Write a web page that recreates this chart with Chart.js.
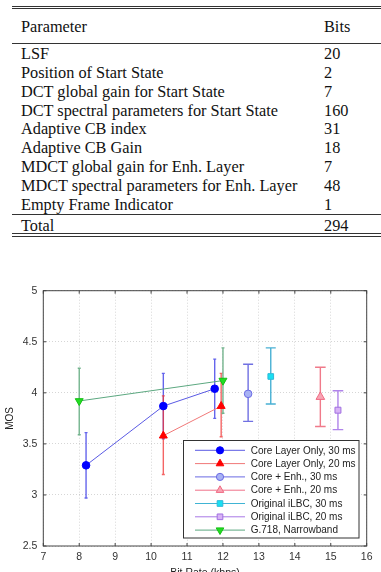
<!DOCTYPE html>
<html>
<head>
<meta charset="utf-8">
<script src="https://cdn.jsdelivr.net/npm/chart.js@4.4.0/dist/chart.umd.min.js"></script>
<style>
body { margin: 0; background: #fff; width: 381px; height: 572px; overflow: hidden; position: relative; font-family: "Liberation Serif", "Times New Roman", serif; }
#tbl { position: absolute; left: 12px; top: 0; width: 369px; height: 240px; }
.rule { position: absolute; left: 0; right: 0; border-top: 1px solid #333; }
.row { position: absolute; left: 9px; right: 0; height: 19px; line-height: 19px; font-size: 16.3px; color: #111; white-space: nowrap; }
.row .b { position: absolute; left: 303px; top: 0; }
#chartBox { position: absolute; left: 0; top: 270px; width: 381px; height: 302px; }
</style>
</head>
<body>
<div id="tbl"></div>
<div id="chartBox"><canvas id="mosChart"></canvas></div>
<script>
// Table data
const tableHeader = ['Parameter', 'Bits'];
const tableParams = ['LSF', 'Position of Start State', 'DCT global gain for Start State',
  'DCT spectral parameters for Start State', 'Adaptive CB index', 'Adaptive CB Gain',
  'MDCT global gain for Enh. Layer', 'MDCT spectral parameters for Enh. Layer', 'Empty Frame Indicator'];
const tableBits = [20, 2, 7, 160, 31, 18, 7, 48, 1];
const tableTotal = ['Total', 294];

// Chart data
const xTicks = [7, 8, 9, 10, 11, 12, 13, 14, 15, 16];
const yTicks = [2.5, 3, 3.5, 4, 4.5, 5];
const seriesLabels = ['Core Layer Only, 30 ms', 'Core Layer Only, 20 ms', 'Core + Enh., 30 ms',
  'Core + Enh., 20 ms', 'Original iLBC, 30 ms', 'Original iLBC, 20 ms', 'G.718, Narrowband'];

const core30X = [8.19, 10.34, 11.77];
const core30Y = [3.29, 3.87, 4.04];
const core30Lo = [2.97, 3.55, 3.75];
const core30Hi = [3.61, 4.19, 4.33];

const core20X = [10.34, 11.95];
const core20Y = [3.58, 3.87];
const core20Lo = [3.20, 3.57];
const core20Hi = [3.97, 4.19];

const enh30X = [12.70];
const enh30Y = [3.99];
const enh30Lo = [3.72];
const enh30Hi = [4.28];

const enh20X = [14.71];
const enh20Y = [3.96];
const enh20Lo = [3.67];
const enh20Hi = [4.25];

const ilbc30X = [13.33];
const ilbc30Y = [4.16];
const ilbc30Lo = [3.89];
const ilbc30Hi = [4.44];

const ilbc20X = [15.20];
const ilbc20Y = [3.83];
const ilbc20Lo = [3.64];
const ilbc20Hi = [4.02];

const g718X = [8.0, 12.0];
const g718Y = [3.92, 4.12];
const g718Lo = [3.59, 3.80];
const g718Hi = [4.24, 4.44];

// build the table
const tbl = document.getElementById('tbl');
function addRule(y) {
  const d = document.createElement('div');
  d.className = 'rule';
  d.style.top = y + 'px';
  tbl.appendChild(d);
}
function addRow(y, a, b) {
  const d = document.createElement('div');
  d.className = 'row';
  d.style.top = (y - 9.5) + 'px';
  d.textContent = a;
  const s = document.createElement('span');
  s.className = 'b';
  s.textContent = b;
  d.appendChild(s);
  tbl.appendChild(d);
}
addRule(5.5); addRule(8);
addRow(26, tableHeader[0], tableHeader[1]);
addRule(42.5);
tableParams.forEach((p, i) => addRow(53.3 + i * 18.9, p, tableBits[i]));
addRule(213.5);
addRow(225, tableTotal[0], tableTotal[1]);
addRule(232.5); addRule(235.5);

function pts(xs, ys) { return xs.map((x, i) => ({ x: x, y: ys[i] })); }

const datasets = [
  { label: seriesLabels[0], data: pts(core30X, core30Y), lo: core30Lo, hi: core30Hi, cap: 1.5,
    borderColor: '#5a5ae4', errColor: 'rgba(50,50,230,0.75)', pointBackgroundColor: '#0000ff', pointBorderColor: '#0000ff',
    pointStyle: 'circle', pointRadius: 3.8, showLine: true },
  { label: seriesLabels[1], data: pts(core20X, core20Y), lo: core20Lo, hi: core20Hi, cap: 1.5,
    borderColor: '#f07878', errColor: 'rgba(240,50,50,0.75)', pointBackgroundColor: '#ff0000', pointBorderColor: '#ff0000',
    pointStyle: 'triangle', pointRadius: 4.6, showLine: true },
  { label: seriesLabels[2], data: pts(enh30X, enh30Y), lo: enh30Lo, hi: enh30Hi, cap: 5,
    borderColor: '#6a6ae4', errColor: '#7070e2', pointBackgroundColor: '#a8b2f4', pointBorderColor: '#6a6ae4',
    pointStyle: 'circle', pointRadius: 3.8, showLine: false },
  { label: seriesLabels[3], data: pts(enh20X, enh20Y), lo: enh20Lo, hi: enh20Hi, cap: 5.3,
    borderColor: '#f07088', errColor: '#f07a8a', pointBackgroundColor: '#f8a4b4', pointBorderColor: '#f06a82',
    pointStyle: 'triangle', pointRadius: 5, showLine: false },
  { label: seriesLabels[4], data: pts(ilbc30X, ilbc30Y), lo: ilbc30Lo, hi: ilbc30Hi, cap: 5,
    borderColor: '#40b4d4', errColor: '#48b0d4', pointBackgroundColor: '#18e0f2', pointBorderColor: '#30b8d8',
    pointStyle: 'rect', pointRadius: 4, showLine: false },
  { label: seriesLabels[5], data: pts(ilbc20X, ilbc20Y), lo: ilbc20Lo, hi: ilbc20Hi, cap: 5.3,
    borderColor: '#a878e6', errColor: '#b084ea', pointBackgroundColor: '#d8b2f6', pointBorderColor: '#a070e0',
    pointStyle: 'rect', pointRadius: 4.2, showLine: false },
  { label: seriesLabels[6], data: pts(g718X, g718Y), lo: g718Lo, hi: g718Hi, cap: 1.5,
    borderColor: '#5ca880', errColor: '#74b48e', pointBackgroundColor: '#22dd22', pointBorderColor: '#14c014',
    pointStyle: 'triangle', pointRotation: 180, pointRadius: 4.6, showLine: true }
];
datasets.forEach(d => { d.borderWidth = 1; d.pointBorderWidth = 1; d.fill = false; d.tension = 0; });

const FONT = '"Liberation Sans", Arial, sans-serif';

function drawMarker(ctx, ds, x, y, r) {
  ctx.save();
  ctx.fillStyle = ds.pointBackgroundColor;
  ctx.strokeStyle = ds.pointBorderColor;
  ctx.lineWidth = 1;
  ctx.beginPath();
  if (ds.pointStyle === 'circle') {
    ctx.arc(x, y, r, 0, Math.PI * 2);
  } else if (ds.pointStyle === 'rect') {
    const s = r * Math.SQRT1_2;
    ctx.rect(x - s, y - s, 2 * s, 2 * s);
  } else {
    const dir = ds.pointRotation === 180 ? -1 : 1;
    ctx.moveTo(x, y - dir * r);
    ctx.lineTo(x + r * 0.866, y + dir * r * 0.5);
    ctx.lineTo(x - r * 0.866, y + dir * r * 0.5);
    ctx.closePath();
  }
  ctx.fill();
  ctx.stroke();
  ctx.restore();
}

const matlabLook = {
  id: 'matlabLook',
  beforeDatasetsDraw(chart) {
    const ctx = chart.ctx;
    const ys = chart.scales.y;
    chart.data.datasets.forEach((ds, di) => {
      const meta = chart.getDatasetMeta(di);
      ctx.save();
      ctx.strokeStyle = ds.errColor;
      ctx.lineWidth = 1.4;
      meta.data.forEach((el, i) => {
        const yl = ys.getPixelForValue(ds.lo[i]);
        const yh = ys.getPixelForValue(ds.hi[i]);
        ctx.beginPath();
        ctx.moveTo(el.x, yl); ctx.lineTo(el.x, yh);
        ctx.moveTo(el.x - ds.cap, yl); ctx.lineTo(el.x + ds.cap, yl);
        ctx.moveTo(el.x - ds.cap, yh); ctx.lineTo(el.x + ds.cap, yh);
        ctx.stroke();
      });
      ctx.restore();
    });
  },
  afterDraw(chart) {
    const ctx = chart.ctx;
    const a = chart.chartArea;
    const xs = chart.scales.x, ys = chart.scales.y;
    ctx.save();
    // frame
    ctx.strokeStyle = '#444';
    ctx.lineWidth = 1;
    ctx.strokeRect(a.left, a.top, a.right - a.left, a.bottom - a.top);
    // inner ticks
    ctx.beginPath();
    xTicks.forEach(v => {
      const px = xs.getPixelForValue(v);
      ctx.moveTo(px, a.bottom); ctx.lineTo(px, a.bottom - 3);
      ctx.moveTo(px, a.top); ctx.lineTo(px, a.top + 3);
    });
    yTicks.forEach(v => {
      const py = ys.getPixelForValue(v);
      ctx.moveTo(a.left, py); ctx.lineTo(a.left + 3, py);
      ctx.moveTo(a.right, py); ctx.lineTo(a.right - 3, py);
    });
    ctx.stroke();
    // axis titles
    ctx.fillStyle = '#222';
    ctx.font = '10.5px ' + FONT;
    ctx.textAlign = 'center';
    ctx.textBaseline = 'top';
    ctx.fillText('Bit Rate (kbps)', (a.left + a.right) / 2, 298);
    ctx.save();
    ctx.translate(10, (a.top + a.bottom) / 2);
    ctx.rotate(-Math.PI / 2);
    ctx.textBaseline = 'middle';
    ctx.font = '10px ' + FONT;
    ctx.fillText('MOS', 0, 0);
    ctx.restore();
    // legend
    const lx = 183.5, ly = 170.5, lw = 175.5, lh = 97.5;
    ctx.fillStyle = '#fff';
    ctx.fillRect(lx, ly, lw, lh);
    ctx.strokeStyle = '#333';
    ctx.strokeRect(lx, ly, lw, lh);
    chart.data.datasets.forEach((ds, i) => {
      const cy = 180.3 + i * 13.3;
      ctx.strokeStyle = ds.borderColor;
      ctx.lineWidth = 1;
      ctx.beginPath();
      ctx.moveTo(195, cy); ctx.lineTo(245, cy);
      ctx.stroke();
      drawMarker(ctx, ds, 220, cy, ds.pointStyle === 'rect' ? 4 : (ds.pointStyle === 'circle' ? 3.6 : 4.4));
      ctx.fillStyle = '#222';
      ctx.font = '10px ' + FONT;
      ctx.textAlign = 'left';
      ctx.textBaseline = 'middle';
      ctx.fillText(ds.label, 250.7, cy + 0.5);
    });
    ctx.restore();
  }
};

const ctx = document.getElementById('mosChart').getContext('2d');
const mosChart = new Chart(ctx, {
  type: 'scatter',
  data: { datasets: datasets },
  options: {
    responsive: true,
    maintainAspectRatio: false,
    animation: false,
    layout: { padding: { top: 20.7, right: 14.3, left: 0, bottom: 0 } },
    plugins: { legend: { display: false }, tooltip: { enabled: false } },
    scales: {
      x: {
        type: 'linear', min: 7, max: 16,
        afterBuildTicks: s => { s.ticks = xTicks.map(v => ({ value: v })); },
        afterFit: s => { s.height = 26; },
        grid: { color: 'rgba(0,0,0,0.16)', drawTicks: false, lineWidth: 1 },
        border: { display: false, dash: [1, 2] },
        ticks: { color: '#333', padding: 5, font: { family: FONT, size: 10.5 }, maxRotation: 0,
                 callback: v => String(v) }
      },
      y: {
        type: 'linear', min: 2.5, max: 5,
        afterBuildTicks: s => { s.ticks = yTicks.map(v => ({ value: v })); },
        afterFit: s => { s.width = 43.3; },
        grid: { color: 'rgba(0,0,0,0.16)', drawTicks: false, lineWidth: 1 },
        border: { display: false, dash: [1, 2] },
        ticks: { color: '#333', padding: 6, font: { family: FONT, size: 10.5 },
                 callback: v => String(v) }
      }
    }
  },
  plugins: [matlabLook]
});
</script>
</body>
</html>
